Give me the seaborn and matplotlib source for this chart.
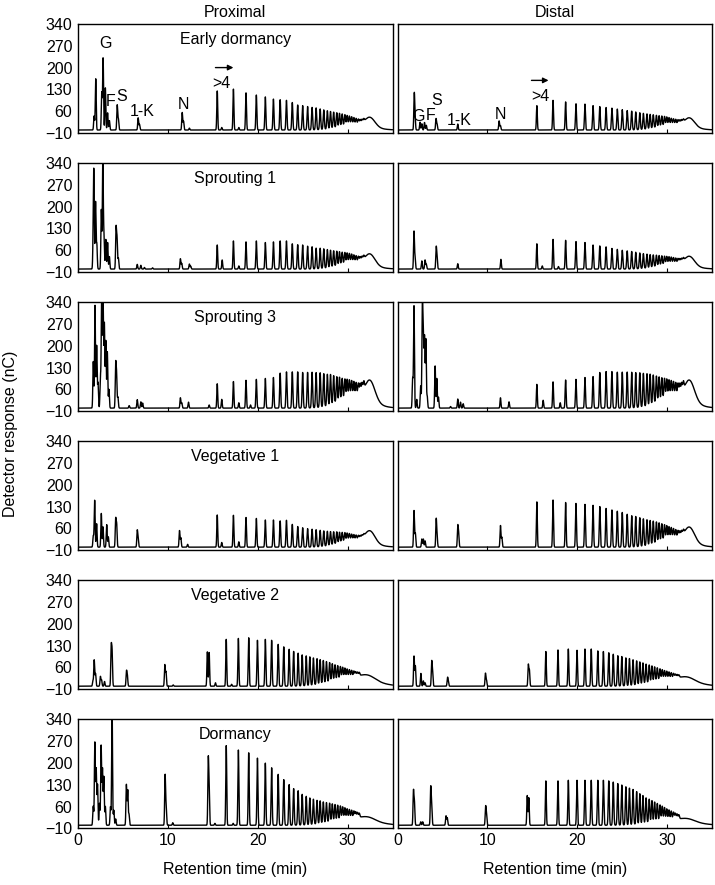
import numpy as np
import pandas as pd
import seaborn as sns
import matplotlib
matplotlib.use("Agg")
from matplotlib import pyplot as plt

# ---- data ----
stages = ["Early dormancy", "Sprouting 1", "Sprouting 3",
          "Vegetative 1", "Vegetative 2", "Dormancy"]
sides = ["Proximal", "Distal"]

# retention times (min) of the >4 ladder, two column runs
ladder_rt_a = [15.5, 17.3, 18.7, 19.85, 20.85, 21.75, 22.5, 23.2, 23.85, 24.45, 25.0,
               25.55, 26.05, 26.5, 26.95, 27.35, 27.75, 28.1, 28.45, 28.8, 29.1, 29.4,
               29.7, 29.95, 30.2, 30.45, 30.7, 30.95, 31.2, 31.4, 31.6, 31.8]
ladder_rt_b = [16.5, 17.85, 19.0, 19.97, 20.85, 21.55, 22.28, 22.9, 23.5, 24.0, 24.5,
               24.95, 25.4, 25.8, 26.2, 26.6, 26.95, 27.3, 27.65, 28.0, 28.3, 28.6,
               28.9, 29.2, 29.45, 29.7, 29.95, 30.2, 30.45, 30.7, 30.9, 31.1, 31.3]

# ladder peak heights (nC) per panel
ed_prox_ladder = [125, 131, 119, 112, 106, 99, 97, 95, 88, 80, 78, 75, 72, 70, 66, 62,
                  58, 54, 50, 46, 42, 38, 34, 30, 27, 24, 21, 18, 15, 12, 10, 8]
ed_dist_ladder = [78, 95, 90, 84, 83, 78, 75, 72, 70, 67, 65, 62, 60, 57, 54, 51,
                  48, 45, 42, 38, 35, 32, 29, 26, 23, 20, 18, 16, 14, 12, 10, 8]
sp1_prox_ladder = [77, 90, 87, 90, 85, 87, 90, 90, 81, 78, 77, 73, 71, 66, 65, 62,
                   58, 54, 50, 46, 42, 38, 35, 32, 29, 26, 23, 20, 17, 14, 12, 10]
sp1_dist_ladder = [81, 95, 92, 88, 85, 77, 74, 71, 66, 63, 60, 58, 56, 53, 50, 47,
                   44, 41, 38, 35, 32, 29, 26, 24, 22, 20, 18, 16, 14, 12, 10, 8]
sp3_prox_ladder = [78, 85, 89, 92, 95, 98, 112, 116, 116, 116, 114, 114, 114, 112, 110, 105,
                   100, 96, 88, 80, 74, 66, 60, 56, 52, 48, 44, 40, 36, 32, 28, 24]
sp3_dist_ladder = [76, 84, 90, 92, 98, 101, 114, 117, 117, 115, 115, 115, 114, 112, 110, 106,
                   102, 97, 90, 82, 75, 68, 62, 57, 52, 48, 44, 40, 36, 32, 28, 24]
veg1_prox_ladder = [103, 102, 95, 92, 87, 87, 84, 86, 73, 66, 62, 59, 57, 55, 52, 49,
                    46, 43, 40, 37, 33, 30, 27, 24, 21, 18, 16, 14, 12, 10, 8, 6]
veg1_dist_ladder = [145, 151, 143, 140, 137, 134, 130, 124, 119, 115, 111, 105, 100, 97, 92, 87,
                    82, 77, 72, 66, 60, 54, 48, 43, 38, 34, 30, 26, 22, 18, 15, 12]
veg2_prox_ladder = [150, 153, 155, 147, 150, 147, 134, 126, 118, 111, 105, 99, 95, 91, 86, 82,
                    77, 72, 66, 60, 54, 48, 43, 38, 34, 30, 26, 23, 20, 17, 14, 12, 10]
veg2_dist_ladder = [111, 116, 119, 115, 119, 119, 113, 111, 107, 102, 97, 94, 89, 86, 81, 76,
                    71, 66, 60, 55, 50, 45, 40, 35, 31, 27, 24, 21, 18, 15, 12, 10, 8]
dorm_prox_ladder = [255, 241, 232, 215, 199, 184, 163, 146, 130, 117, 110, 98, 91, 85, 80, 75,
                    72, 67, 63, 59, 55, 51, 47, 43, 39, 35, 31, 28, 25, 22, 19, 16, 13]
dorm_dist_ladder = [142, 142, 144, 144, 144, 144, 144, 144, 142, 138, 133, 128, 122, 117, 112, 104,
                    96, 89, 80, 74, 68, 62, 56, 50, 45, 40, 35, 31, 27, 23, 19, 16, 13]

# early peaks (retention time, height) per panel
ed_prox_minor = [(1.8, 45), (1.98, 164), (2.65, 120), (2.8, 230), (3.05, 135), (3.3, 55),
                 (3.5, 30), (4.37, 80), (4.5, 35), (6.7, 39), (6.85, 18), (11.6, 56),
                 (11.75, 28), (12.4, 6), (16.0, 8), (17.9, 8)]
ed_dist_minor = [(1.86, 113), (1.95, 35), (2.5, 25), (2.7, 20), (3.0, 24), (3.2, 15),
                 (4.28, 36), (4.4, 18), (6.7, 19), (11.3, 29), (11.45, 14)]
sp1_prox_minor = [(1.7, 80), (1.77, 290), (1.96, 215), (2.1, 80), (2.6, 190), (2.77, 370),
                  (2.9, 110), (3.1, 95), (3.3, 85), (3.5, 40), (4.24, 130), (4.35, 95),
                  (4.5, 35), (6.6, 15), (7.0, 12), (7.4, 5), (8.3, 4), (11.4, 33), (11.55, 18),
                  (12.4, 16), (12.55, 9), (16.05, 29), (17.9, 10)]
sp1_dist_minor = [(1.83, 120), (1.95, 35), (2.7, 26), (3.06, 29), (3.2, 15), (4.3, 68),
                  (4.4, 35), (6.7, 17), (11.5, 31), (16.1, 10), (17.9, 8)]
sp3_prox_minor = [(1.71, 149), (1.9, 329), (2.08, 200), (2.23, 81), (2.5, 100), (2.64, 360),
                  (2.79, 360), (2.94, 270), (3.1, 215), (3.27, 180), (3.45, 60), (4.2, 135),
                  (4.3, 100), (4.45, 35), (5.7, 8), (6.6, 27), (7.0, 20), (7.2, 16),
                  (11.4, 33), (11.55, 17), (12.3, 19), (14.6, 10), (16.0, 28), (17.9, 17),
                  (19.2, 10)]
sp3_dist_minor = [(1.68, 94), (1.83, 327), (2.13, 28), (2.57, 71), (2.76, 360), (2.87, 220),
                  (3.0, 225), (3.15, 220), (3.3, 38), (4.18, 135), (4.37, 95), (4.55, 35),
                  (5.9, 5), (6.7, 29), (7.0, 19), (7.3, 14), (11.45, 33), (12.4, 20),
                  (16.2, 25), (18.1, 17)]
veg1_prox_minor = [(1.71, 36), (1.86, 150), (2.08, 75), (2.6, 108), (2.79, 65), (3.2, 72),
                   (3.38, 33), (4.2, 88), (4.31, 70), (6.6, 52), (6.7, 25), (11.3, 53),
                   (11.45, 30), (12.2, 9), (16.0, 15), (17.9, 17)]
veg1_dist_minor = [(1.83, 117), (1.98, 45), (2.7, 26), (2.87, 26), (3.06, 20), (4.3, 88),
                   (4.4, 32), (6.7, 66), (6.8, 40), (11.45, 69), (11.6, 32)]
veg2_prox_minor = [(1.67, 17), (1.81, 84), (1.96, 40), (2.5, 31), (2.63, 20), (2.96, 15),
                   (3.7, 120), (3.8, 105), (5.4, 46), (5.5, 32), (9.67, 68), (9.8, 45),
                   (10.6, 4), (14.4, 110), (14.6, 108), (15.3, 11), (17.1, 6)]
veg2_dist_minor = [(1.83, 96), (1.98, 65), (2.6, 41), (2.87, 17), (3.06, 11), (3.8, 76),
                   (3.9, 42), (5.56, 26), (5.65, 13), (9.78, 41), (9.9, 18), (14.55, 68),
                   (14.67, 50)]
dorm_prox_minor = [(1.7, 61), (1.88, 265), (2.03, 180), (2.18, 130), (2.4, 70), (2.58, 255),
                   (2.73, 180), (2.88, 155), (3.05, 60), (3.62, 59), (3.8, 380), (3.99, 48),
                   (4.2, 20), (5.39, 130), (5.54, 112), (5.68, 35), (9.7, 160), (9.82, 60),
                   (10.55, 8), (14.5, 205), (14.6, 110), (15.24, 6), (17.27, 6)]
dorm_dist_minor = [(1.77, 108), (1.88, 70), (2.58, 11), (2.8, 11), (3.69, 120), (3.8, 68),
                   (5.39, 30), (5.53, 24), (9.8, 58), (9.9, 32), (14.43, 95), (14.6, 88)]

# late broad hump height (nC)
hump_prox = [42, 50, 92, 54, 40, 30]
hump_dist = [40, 42, 92, 66, 33, 24]
run = ["a", "a", "a", "a", "b", "b"]

# peak labels in the top row: (text, time, nC)
labels_prox = [("G", 3.1, 278), ("F", 3.6, 91), ("S", 4.85, 107), ("1-K", 7.2, 59),
               ("N", 11.7, 81), (">4", 16.0, 148)]
labels_dist = [("G", 2.3, 43), ("F", 3.65, 45), ("S", 4.35, 95), ("1-K", 6.9, 31),
               ("N", 11.4, 49), (">4", 15.9, 107)]
arrow_prox = (15.3, 17.3, 200)
arrow_dist = (14.9, 16.8, 159)

minor = {
    "Proximal": [ed_prox_minor, sp1_prox_minor, sp3_prox_minor, veg1_prox_minor, veg2_prox_minor, dorm_prox_minor],
    "Distal": [ed_dist_minor, sp1_dist_minor, sp3_dist_minor, veg1_dist_minor, veg2_dist_minor, dorm_dist_minor],
}
ladder = {
    "Proximal": [ed_prox_ladder, sp1_prox_ladder, sp3_prox_ladder, veg1_prox_ladder, veg2_prox_ladder, dorm_prox_ladder],
    "Distal": [ed_dist_ladder, sp1_dist_ladder, sp3_dist_ladder, veg1_dist_ladder, veg2_dist_ladder, dorm_dist_ladder],
}
hump = {"Proximal": hump_prox, "Distal": hump_dist}


def gauss(t, c, s):
    return np.exp(-0.5 * ((t - c) / s) ** 2)


def trace(peaks, rts, heights, hump_h, col_run):
    t = np.linspace(0, 35, 7001)
    y = np.zeros_like(t)
    for rt, h in peaks:
        y += h * gauss(t, rt, 0.05)
    for rt, h in zip(rts, heights):
        y += h * gauss(t, rt, 0.05 + 0.001 * (rt - 15))
    # broad late-eluting hump
    if col_run == "a":
        y += hump_h * (0.7 * gauss(t, 32.5, 0.55) + 0.45 * gauss(t, 30.8, 1.7))
    else:
        y += hump_h * (0.35 * gauss(t, 32.3, 0.8) + 0.75 * gauss(t, 30.5, 2.2))
    return pd.DataFrame({"time": t, "response": y})


sns.set_style("ticks")
plt.rcParams["font.family"] = ["Liberation Sans", "DejaVu Sans"]
plt.rcParams["font.size"] = 11.5
for key in ["text.color", "axes.labelcolor", "xtick.color", "ytick.color"]:
    plt.rcParams[key] = "black"

fig, axes = plt.subplots(6, 2, figsize=(7.15, 8.85), dpi=100, sharex=True, sharey=True)
fig.subplots_adjust(left=0.109, right=0.996, top=0.973, bottom=0.064, hspace=0.273, wspace=0.016)

for i, stage in enumerate(stages):
    for j, side in enumerate(sides):
        ax = axes[i, j]
        rts = ladder_rt_a if run[i] == "a" else ladder_rt_b
        df = trace(minor[side][i], rts, ladder[side][i], hump[side][i], run[i])
        sns.lineplot(data=df, x="time", y="response", ax=ax, color="black",
                     linewidth=1.0, estimator=None)
        ax.set_xlim(0, 35)
        ax.set_ylim(-10, 340)
        ax.set_xticks([0, 10, 20, 30])
        ax.set_yticks([-10, 60, 130, 200, 270, 340])
        ax.tick_params(axis="x", direction="in", length=3, width=0.8, labelsize=11.5)
        ax.tick_params(axis="y", length=0, labelsize=11.5, pad=4)
        ax.set_xlabel("")
        ax.set_ylabel("")
        for sp in ax.spines.values():
            sp.set_linewidth(1.0)
            sp.set_color("black")
        if j == 0:
            ax.text(0.5, 0.86, stage, transform=ax.transAxes, ha="center", va="center",
                    fontsize=11.5)
        if i == 0:
            ax.set_title(side, fontsize=11.5, pad=5)

# peak labels, top row
for ax, labels, arr in [(axes[0, 0], labels_prox, arrow_prox), (axes[0, 1], labels_dist, arrow_dist)]:
    for txt, x, y in labels:
        ax.text(x, y, txt, ha="center", va="center", fontsize=11.5)
    ax.annotate("", xy=(arr[1], arr[2]), xytext=(arr[0], arr[2]),
                arrowprops=dict(arrowstyle="-|>", color="black", lw=1.0,
                                mutation_scale=8, shrinkA=0, shrinkB=0))

for ax in axes[-1]:
    ax.set_xlabel("Retention time (min)", fontsize=11.5, labelpad=10)
fig.text(0.014, 0.51, "Detector response (nC)", rotation=90, ha="center", va="center",
         fontsize=11.5)

fig.savefig("out.png", dpi=100)
